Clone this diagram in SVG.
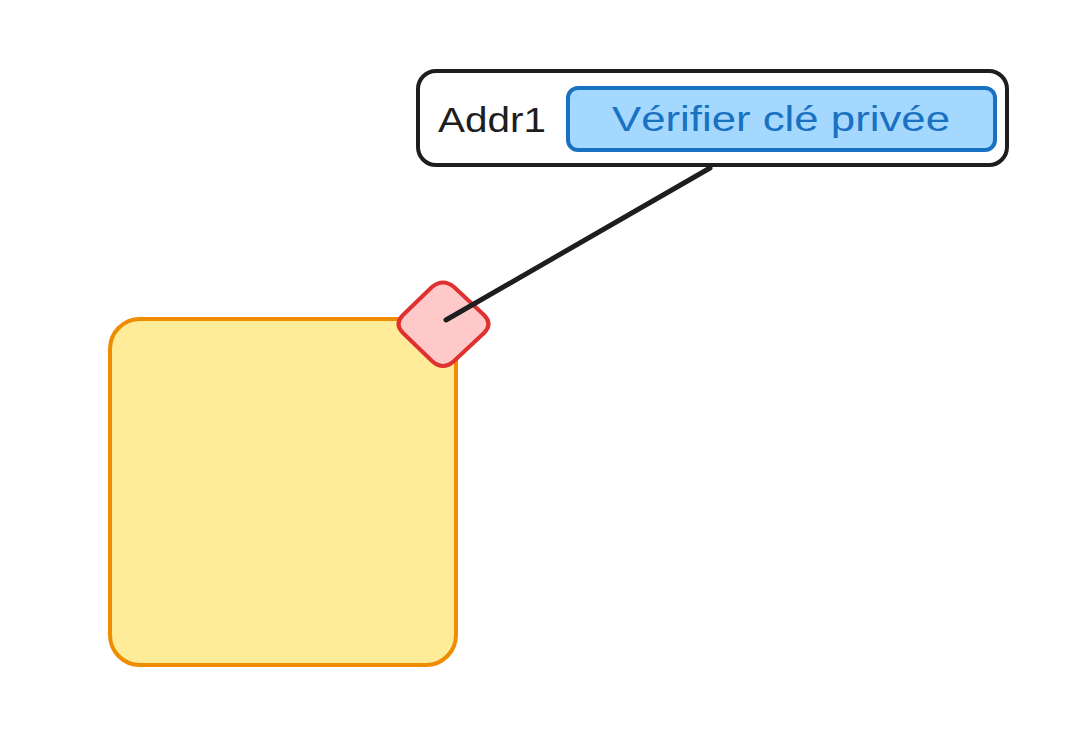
<svg xmlns="http://www.w3.org/2000/svg" width="1069" height="736" viewBox="0 0 1069 736">
<style>
.t{font-family:"Liberation Sans","DejaVu Sans",sans-serif;}
</style>
<rect width="1069" height="736" fill="#ffffff"/>
<g id="square">
<rect x="110" y="319" width="346" height="346" rx="30" fill="#ffec99" stroke="#f08c00" stroke-width="4"/>
</g>
<g id="diamond">
<path d="M 432 287 Q 443 278 454 287 L 484 315 Q 493 324 484 333 L 454 361 Q 443 371 432 361 L 403 333 Q 394 324 403 315 Z" fill="#ffc9c9" stroke="#e03131" stroke-width="4" stroke-linejoin="round"/>
</g>
<g id="addr-box">
<rect x="418" y="71" width="589" height="94" rx="18" fill="#ffffff" stroke="#1e1e1e" stroke-width="4"/>
<text class="t" x="438" y="132" font-size="35" fill="#1e1e1e" textLength="108" lengthAdjust="spacingAndGlyphs">Addr1</text>
</g>
<g id="verify-button">
<rect x="568" y="88" width="427" height="62" rx="10" fill="#a5d8ff" stroke="#1971c2" stroke-width="4"/>
<text class="t" x="612" y="131" font-size="35" fill="#1971c2" textLength="338" lengthAdjust="spacingAndGlyphs">Vérifier clé privée</text>
</g>
<g id="connectors">
<line x1="710" y1="168" x2="446" y2="320" stroke="#1e1e1e" stroke-width="5" stroke-linecap="round"/>
</g>
</svg>
